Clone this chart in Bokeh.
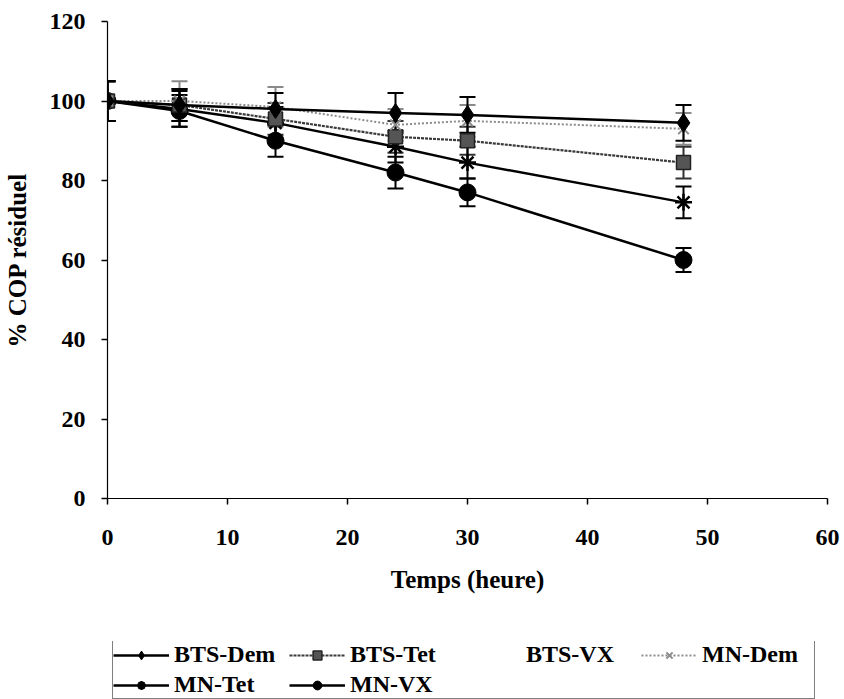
from bokeh.plotting import figure
from bokeh.layouts import column
from bokeh.models import (Range1d, Whisker, ColumnDataSource, Legend, LegendItem,
                          TeeHead, FixedTicker)
from bokeh.embed import file_html
from bokeh.resources import INLINE

hours = [0, 6, 14, 24, 30, 48]
bts_dem = [100, 99, 98, 97, 96.5, 94.5]
bts_dem_err = [5, 4, 4, 5, 4.5, 4.5]
bts_tet = [100, 99, 95.5, 91, 90, 84.5]
bts_tet_err = [5, 4, 4, 4, 3.5, 4]
mn_dem = [100, 100, 98.5, 94, 95, 93]
mn_dem_err = [5, 5, 5, 4, 4, 4]
mn_tet = [100, 98, 94.5, 88.5, 84.5, 74.5]
mn_tet_err = [5, 4.5, 4, 4, 4, 4]
mn_vx = [100, 97.5, 90, 82, 77, 60]
mn_vx_err = [5, 4, 4, 4, 3.5, 3]

x_ticks = [0, 10, 20, 30, 40, 50, 60]
y_ticks = [0, 20, 40, 60, 80, 100, 120]

FONT = "Liberation Serif"

p = figure(width=844, height=641,
           min_border_left=107, min_border_top=21, min_border_right=17,
           min_border_bottom=143,
           x_range=Range1d(0, 60), y_range=Range1d(0, 120),
           output_backend="svg", toolbar_location=None)
p.outline_line_color = None
p.xgrid.visible = False
p.ygrid.visible = False
p.background_fill_color = "white"
p.border_fill_color = "white"

for ax in (p.xaxis[0], p.yaxis[0]):
    ax.minor_tick_line_color = None
    ax.major_tick_in = 0
    ax.major_tick_out = 6
    ax.major_tick_line_color = "black"
    ax.major_tick_line_width = 1.5
    ax.axis_line_color = "black"
    ax.axis_line_width = 1.2
    ax.major_label_text_font = FONT
    ax.major_label_text_font_style = "bold"
    ax.major_label_text_font_size = "24px"
    ax.major_label_text_color = "black"
    ax.axis_label_text_font = FONT
    ax.axis_label_text_font_style = "bold"
    ax.axis_label_text_font_size = "25px"
    ax.axis_label_text_color = "black"

p.xaxis[0].ticker = FixedTicker(ticks=x_ticks)
p.yaxis[0].ticker = FixedTicker(ticks=y_ticks)
p.xaxis[0].axis_label = "Temps (heure)"
p.yaxis[0].axis_label = "% COP résiduel"
p.xaxis[0].major_label_standoff = 25
p.xaxis[0].axis_label_standoff = 18
p.yaxis[0].major_label_standoff = 16
p.yaxis[0].axis_label_standoff = 16


def add_err(vals, errs, color):
    src = ColumnDataSource(dict(x=hours,
                                upper=[v + e for v, e in zip(vals, errs)],
                                lower=[v - e for v, e in zip(vals, errs)]))
    w = Whisker(source=src, base="x", upper="upper", lower="lower",
                line_color=color, line_width=2,
                upper_head=TeeHead(size=16, line_width=2, line_color=color),
                lower_head=TeeHead(size=16, line_width=2, line_color=color))
    p.add_layout(w)


add_err(mn_dem, mn_dem_err, "#8a8a8a")
add_err(bts_tet, bts_tet_err, "#333333")
add_err(mn_tet, mn_tet_err, "black")
add_err(mn_vx, mn_vx_err, "black")
add_err(bts_dem, bts_dem_err, "black")

# series styles: (label, values, line style, marker style)
series = [
    ("BTS-Dem", bts_dem, dict(line_color="black", line_width=2.5),
     dict(marker="diamond", size=19, fill_color="black", line_color="black")),
    ("BTS-Tet", bts_tet, dict(line_color="#3a3a3a", line_width=2.2, line_dash="3 1"),
     dict(marker="square", size=14, fill_color="#555555", line_color="#222222",
          line_width=1.5)),
    ("BTS-VX", None, dict(line_alpha=0), None),
    ("MN-Dem", mn_dem, dict(line_color="#8c8c8c", line_width=2, line_dash="2 2"),
     dict(marker="x", size=15, line_color="#8c8c8c", line_width=2)),
    ("MN-Tet", mn_tet, dict(line_color="black", line_width=2.5),
     dict(marker="asterisk", size=17, line_color="black", line_width=2.5)),
    ("MN-VX", mn_vx, dict(line_color="black", line_width=2.5),
     dict(marker="circle", size=17, fill_color="black", line_color="black")),
]

# draw in an order that keeps the lower curves underneath
for label, vals, lstyle, mstyle in [series[i] for i in (5, 4, 1, 3, 0)]:
    p.line(hours, vals, **lstyle)
    p.scatter(hours, vals, **mstyle)

# legend panel below the chart (its ranges keep the data itself out of view)
lf = figure(width=844, height=58, min_border_left=107, min_border_right=17,
            min_border_top=0, min_border_bottom=0,
            x_range=Range1d(1000, 1001), y_range=Range1d(1000, 1001),
            x_axis_type=None, y_axis_type=None,
            output_backend="svg", toolbar_location=None)
lf.outline_line_color = None
lf.xgrid.visible = False
lf.ygrid.visible = False

items = []
for label, vals, lstyle, mstyle in series:
    if vals is None:
        rs = [lf.line([], [], **lstyle)]
    else:
        rs = [lf.line(hours, vals, **lstyle), lf.scatter(hours, vals, **mstyle)]
    items.append(LegendItem(label=label, renderers=rs))

legend = Legend(items=items, ncols=4, orientation="horizontal",
                location=(5, 0))
legend.label_text_font = FONT
legend.label_text_font_style = "bold"
legend.label_text_font_size = "24px"
legend.label_text_color = "black"
legend.glyph_width = 56
legend.glyph_height = 22
legend.label_standoff = 5
legend.label_height = 24
legend.label_width = 112
legend.spacing = 3
legend.padding = 0
legend.margin = 0
legend.border_line_color = "black"
legend.border_line_width = 1
legend.background_fill_color = "white"
legend.background_fill_alpha = 1
lf.add_layout(legend, "center")

layout = column(p, lf, spacing=0)
open("out.html", "w").write(file_html(layout, INLINE))
